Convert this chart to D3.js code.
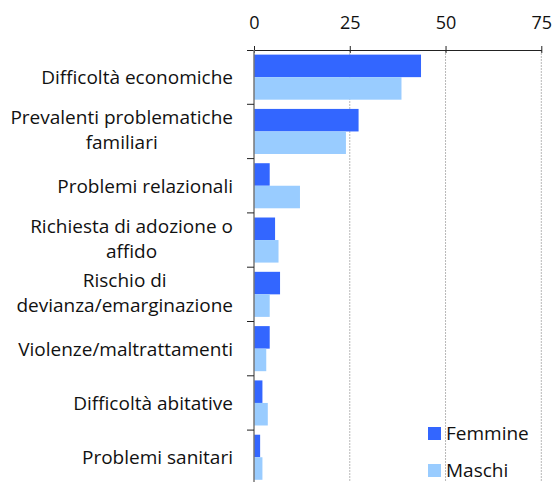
<!DOCTYPE html>
<html>
<head>
<meta charset="utf-8">
<script src="https://cdn.jsdelivr.net/npm/d3@7"></script>
<style>
  body { margin: 0; background: #fff; }
  svg text { font-family: "Open Sans", sans-serif; fill: #111; }
</style>
</head>
<body>
<div id="chart"></div>
<script>
const WIDTH = 555;
const HEIGHT = 482;
const MARGINS = { TOP: 50, LEFT: 254, RIGHT: 14 };
const COLORS = { Femmine: "#3366FF", Maschi: "#99CCFF" };

const categories = [
    ["Difficoltà economiche"],
    ["Prevalenti problematiche", "familiari"],
    ["Problemi relazionali"],
    ["Richiesta di adozione o", "affido"],
    ["Rischio di", "devianza/emarginazione"],
    ["Violenze/maltrattamenti"],
    ["Difficoltà abitative"],
    ["Problemi sanitari"]
];
const femmine = [43.6, 27.3, 4.1, 5.5, 6.8, 4.1, 2.2, 1.6];
const maschi = [38.5, 24.0, 12.0, 6.4, 4.1, 3.2, 3.6, 2.2];
const seriesNames = ["Femmine", "Maschi"];
const xTicks = [0, 25, 50, 75];

const bandH = 54.3;
const plotH = bandH * categories.length;
const LABEL_RIGHT = -21;
const LABEL_SIZE = 19;

let svg = d3.select("#chart")
    .append("svg")
    .attr("width", WIDTH)
    .attr("height", HEIGHT)
    .append("g")
    .attr("transform", "translate(" + MARGINS.LEFT + "," + MARGINS.TOP + ")");

let x = d3.scaleLinear().domain([0, 75]).range([0, 287.3]);
let y = d3.scaleBand().domain(d3.range(categories.length)).range([0, plotH]).paddingInner(0.17).paddingOuter(0.085);
let ySub = d3.scaleBand().domain(seriesNames).range([0, y.bandwidth()]);

// measure a line of label text
function textWidth(str) {
    let t = svg.append("text").style("font-size", LABEL_SIZE + "px").text(str);
    let w = t.node().getComputedTextLength();
    t.remove();
    return w;
}

// gridlines
svg.append("g")
    .selectAll("line")
    .data(xTicks.slice(1))
    .enter()
    .append("line")
    .attr("x1", d => x(d)).attr("x2", d => x(d))
    .attr("y1", 0).attr("y2", HEIGHT)
    .attr("stroke", "#b8b8b8")
    .attr("stroke-width", 1)
    .attr("stroke-dasharray", "2,1");

// bars
let rows = categories.map((c, i) => ({ i: i, Femmine: femmine[i], Maschi: maschi[i] }));
let groups = svg.append("g")
    .selectAll("g")
    .data(rows)
    .enter()
    .append("g")
    .attr("transform", d => "translate(0," + y(d.i) + ")");

groups.selectAll("rect")
    .data(d => seriesNames.map(s => ({ s: s, v: d[s] })))
    .enter()
    .append("rect")
    .attr("x", x(0))
    .attr("y", d => ySub(d.s))
    .attr("width", d => x(d.v) - x(0))
    .attr("height", ySub.bandwidth())
    .style("fill", d => COLORS[d.s]);

// top axis
let xAxis = d3.axisTop(x).tickValues(xTicks).tickSize(7).tickSizeOuter(0);
let gx = svg.append("g").call(xAxis);
gx.select(".domain").attr("d", "M-7,0.5H" + (x(75) + 0.5)).attr("stroke", "#222");
gx.selectAll(".tick line").attr("stroke", "#222").attr("transform", "translate(0,3)");
gx.selectAll(".tick text")
    .attr("y", -21)
    .style("font-size", "18px")
    .style("font-family", "'Open Sans', sans-serif")
    .attr("fill", "#111");

// left axis line
svg.append("line")
    .attr("x1", 0).attr("x2", 0)
    .attr("y1", 0).attr("y2", HEIGHT)
    .attr("stroke", "#777")
    .attr("stroke-width", 1.5);

// category ticks
svg.append("g")
    .selectAll("line")
    .data(d3.range(1, categories.length + 1))
    .enter()
    .append("line")
    .attr("x1", -7).attr("x2", 0)
    .attr("y1", d => d * bandH).attr("y2", d => d * bandH)
    .attr("stroke", "#222");

// category labels: lines of a wrapped label are centred on the widest one
let labelLines = [];
categories.forEach((lines, i) => {
    let widths = lines.map(textWidth);
    let maxW = d3.max(widths);
    lines.forEach((t, j) => {
        let yOff = lines.length > 1 ? 5 - (lines.length - 1) * 12.5 + j * 25 : 7;
        labelLines.push({ t: t, cx: LABEL_RIGHT - maxW / 2, cy: (i + 0.5) * bandH + yOff });
    });
});

svg.append("g")
    .selectAll("text")
    .data(labelLines)
    .enter()
    .append("text")
    .attr("text-anchor", "middle")
    .attr("x", d => d.cx)
    .attr("y", d => d.cy)
    .style("font-size", LABEL_SIZE + "px")
    .text(d => d.t);

// legend
let legend = svg.append("g")
    .attr("transform", "translate(" + (428 - MARGINS.LEFT) + "," + (427 - MARGINS.TOP) + ")");

seriesNames.forEach((s, i) => {
    let item = legend.append("g").attr("transform", "translate(0," + (i * 37) + ")");
    item.append("rect")
        .attr("width", 13).attr("height", 13)
        .style("fill", COLORS[s]);
    item.append("text")
        .attr("x", 18).attr("y", 13)
        .style("font-size", "19px")
        .text(s);
});
</script>
</body>
</html>
